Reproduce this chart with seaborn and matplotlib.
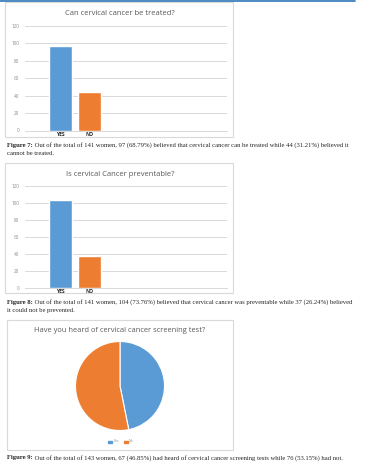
import matplotlib
matplotlib.use("Agg")
import matplotlib.pyplot as plt
import seaborn as sns
import pandas as pd
from matplotlib.patches import Rectangle
from matplotlib.lines import Line2D

sns.set_theme(style="white")
plt.rcParams['font.family'] = ['Open Sans', 'DejaVu Sans']

W, H = 366, 467

# ---- data ----
categories = ["YES", "NO"]
treated_values = [97, 44]
preventable_values = [104, 37]
pie_labels = ["Yes", "No"]
screening_values = [67, 76]
y_ticks = [0, 20, 40, 60, 80, 100, 120]

titles = ["Can cervical cancer be treated?",
          "Is cervical Cancer preventable?",
          "Have you heard of cervical cancer screening test?"]
captions = [
    ("Figure 7:", [" Out of the total of 141 women, 97 (68.79%) believed that cervical cancer can be treated while 44 (31.21%) believed it",
                   "cannot be treated."]),
    ("Figure 8:", [" Out of the total of 141 women, 104 (73.76%) believed that cervical cancer was preventable while 37 (26.24%) believed",
                   "it could not be prevented."]),
    ("Figure 9:", [" Out of the total of 143 women, 67 (46.85%) had heard of cervical cancer screening tests while 76 (53.15%) had not."]),
]

BLUE = "#5B9BD5"
ORANGE = "#ED7D31"
GRID = "#D9D9D9"
TXT = "#595959"
CAP_FS = 4.75

fig = plt.figure(figsize=(W / 100, H / 100), dpi=100)
fig.patch.set_facecolor("white")


def ax_px(x0, y0, x1, y1):
    return fig.add_axes([x0 / W, 1 - y1 / H, (x1 - x0) / W, (y1 - y0) / H])


def box_px(x0, y0, x1, y1):
    fig.patches.append(Rectangle((x0 / W, 1 - y1 / H), (x1 - x0) / W, (y1 - y0) / H,
                                 transform=fig.transFigure, fill=False,
                                 edgecolor=GRID, linewidth=0.8))


# top blue rule
fig.lines.append(Line2D([0, 355 / W], [1 - 0.8 / H, 1 - 0.8 / H],
                        transform=fig.transFigure, color="#2E75B6", linewidth=1.2))


def bar_chart(values, box, axbox):
    box_px(*box)
    ax = ax_px(*axbox)
    df = pd.DataFrame({"cat": categories, "val": values})
    sns.barplot(data=df, x="cat", y="val", hue="cat", order=categories,
                palette=[BLUE, ORANGE], width=0.79, legend=False, ax=ax, saturation=1)
    ax.set_xlim(-1.224, 5.74)
    ax.set_ylim(0, 120)
    ax.set_yticks(y_ticks)
    ax.set_yticklabels([str(t) for t in y_ticks], fontsize=3.3, color="#8C8C8C")
    ax.tick_params(axis="y", length=0, pad=4)
    ax.tick_params(axis="x", length=0, pad=1)
    ax.set_xticks([0, 1])
    ax.set_xticklabels(categories, fontsize=3.6, color="#222222", fontweight="bold")
    ax.set_xlabel("")
    ax.set_ylabel("")
    ax.yaxis.grid(True, color=GRID, linewidth=0.7)
    ax.set_axisbelow(True)
    for s in ["top", "right", "left"]:
        ax.spines[s].set_visible(False)
    ax.spines["bottom"].set_color(GRID)
    ax.spines["bottom"].set_linewidth(0.7)
    ax.patch.set_alpha(0)
    return ax


def caption(idx, x, y, line_gap=8):
    bold, lines = captions[idx]
    t = fig.text(x / W, 1 - y / H, bold, fontsize=CAP_FS, fontweight="bold",
                 family=["Liberation Serif"], va="center", ha="left")
    fig.canvas.draw()
    r = fig.canvas.get_renderer()
    bb = t.get_window_extent(r)
    fig.text(bb.x1 / W, 1 - y / H, lines[0], fontsize=CAP_FS,
             family=["Liberation Serif"], va="center", ha="left")
    for i, ln in enumerate(lines[1:], 1):
        fig.text(x / W, 1 - (y + i * line_gap) / H, ln, fontsize=CAP_FS,
                 family=["Liberation Serif"], va="center", ha="left")


# chart 1
bar_chart(treated_values, (5, 2, 233, 137), (25, 26, 227, 130.5))
fig.text(120 / W, 1 - 13.5 / H, titles[0], fontsize=5.5, color=TXT, ha="center", va="center")
caption(0, 7, 145.5)

# chart 2
bar_chart(preventable_values, (5, 163, 233, 293), (25, 186, 227, 287.5))
fig.text(120 / W, 1 - 175 / H, titles[1], fontsize=5.5, color=TXT, ha="center", va="center")
caption(1, 7, 302.5)

# chart 3: pie
box_px(7, 320, 233, 450)
fig.text(120 / W, 1 - 331 / H, titles[2], fontsize=5.4, color=TXT, ha="center", va="center")
pax = ax_px(75, 341.5, 165, 430.5)
pax.pie(screening_values, colors=[BLUE, ORANGE], startangle=90, counterclock=False,
        wedgeprops=dict(edgecolor="white", linewidth=0.8))
pax.set_xlim(-1.0, 1.0)
pax.set_ylim(-1.0, 1.0)
pax.axis("off")

# legend
lx = 108
for i, (lab, col) in enumerate(zip(pie_labels, [BLUE, ORANGE])):
    x = lx + i * 15.5
    fig.patches.append(Rectangle((x / W, 1 - 442.5 / H), 4 / W, 2 / H,
                                 transform=fig.transFigure, color=col))
    fig.text((x + 5) / W, 1 - 441.5 / H, lab, fontsize=2.4, color="#8C8C8C",
             ha="left", va="center")

caption(2, 7, 458)

fig.savefig("out.png", dpi=100, facecolor="white")
